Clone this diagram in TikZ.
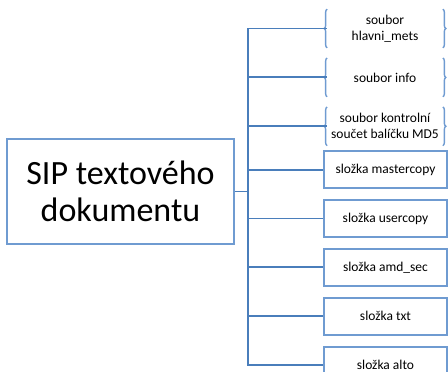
\documentclass[tikz,border=0pt]{standalone}
\usepackage{fontspec}
\setmainfont{Carlito}
\usetikzlibrary{positioning,decorations.pathreplacing}
\definecolor{linkblue}{HTML}{4A7EBB}
\definecolor{boxblue}{HTML}{6F9BD1}
\tikzset{
	% ------- every something
	every node/.style={
		font=\fontsize{13.5}{16}\selectfont,
	},
	% ------- custom
	sipbox/.style={
		draw=boxblue,
		line width=1.7pt,
		minimum width=227pt,
		minimum height=105pt,
		inner sep=0pt,
		align=center,
		font=\fontsize{34}{37}\selectfont,
	},
	itembox/.style={
		draw=boxblue,
		line width=1.7pt,
		minimum width=123pt,
		minimum height=37pt,
		inner sep=0pt,
		align=center,
	},
	bracebox/.style={
		itembox,
		draw=none,
		minimum width=114pt,
	},
	curly/.style={
		boxblue,
		line width=1.4pt,
		decorate,
		decoration={brace, amplitude=3pt},
	},
	link/.style={
		linkblue,
		line width=1.9pt,
	},
}

\begin{document}
\begin{tikzpicture}[x=1pt, y=-1pt]

	\useasboundingbox (0,0) rectangle (448,372);

% root %{{{2

	\node[sipbox] (sip) at (120.5,191.5) {SIP textového\\dokumentu};

% files %{{{2

	\node[bracebox] (hlavni) at (385,28.5) {soubor\\hlavni\_mets};
	\node[bracebox, below=10.2pt of hlavni] (info) {soubor info};
	\node[bracebox, below=10.2pt of info] (md5) {soubor kontrolní\\součet balíčku MD5};

% folders %{{{2

	\node[itembox] (master) at (385.5,169.6) {složka mastercopy};
	\node[itembox, below=10.2pt of master] (user) {složka usercopy};
	\node[itembox, below=10.2pt of user] (amd) {složka amd\_sec};
	\node[itembox, below=10.2pt of amd] (txt) {složka txt};
	\node[itembox, below=10.2pt of txt] (alto) {složka alto};

% braces %{{{2

	\draw[curly] (hlavni.south west) -- (hlavni.north west);
	\draw[curly] (hlavni.north east) -- (hlavni.south east);
	\draw[curly] (info.south west) -- (info.north west);
	\draw[curly] (info.north east) -- (info.south east);
	\draw[curly] (md5.south west) -- (md5.north west);
	\draw[curly] (md5.north east) -- (md5.south east);

% connectors %{{{2

	\coordinate[right=13pt of sip.east] (trunk);

	\draw[link] (sip.east) -- (trunk);
	\draw[link] (trunk) |- (hlavni.west);
	\draw[link] (trunk) |- (info.west);
	\draw[link] (trunk) |- (md5.west);
	\draw[link] (trunk) |- (master.west);
	\draw[link] (trunk) |- (user.west);
	\draw[link] (trunk) |- (amd.west);
	\draw[link] (trunk) |- (txt.west);
	\draw[link] (trunk) |- (alto.west);

\end{tikzpicture}
\end{document}
